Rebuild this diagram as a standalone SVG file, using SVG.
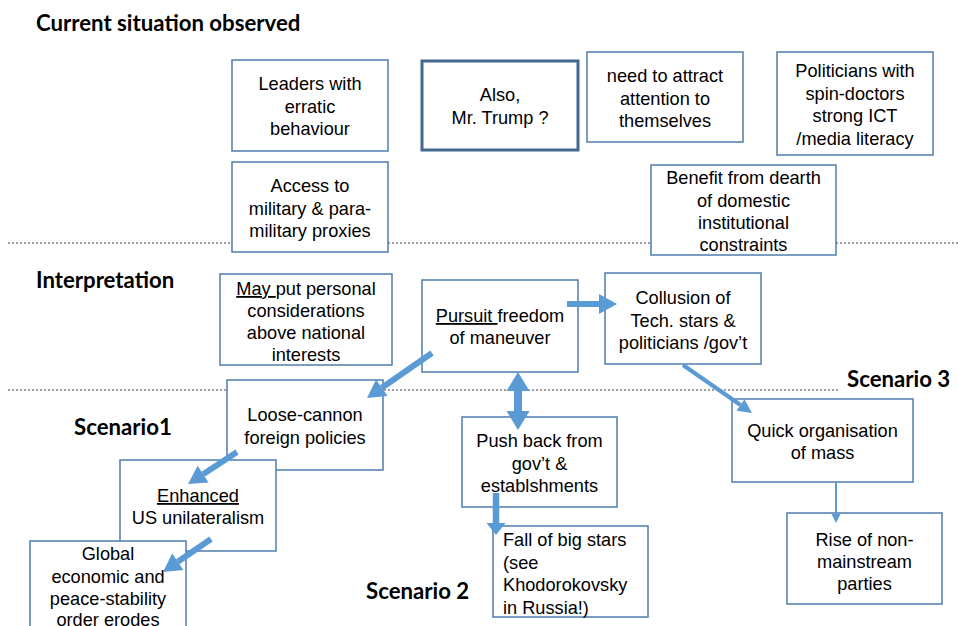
<svg xmlns="http://www.w3.org/2000/svg" width="958" height="626" viewBox="0 0 958 626">
  <style>
    .box { fill: #ffffff; stroke: #4F7CAC; stroke-width: 1.5; }
    .box-strong { fill: #ffffff; stroke: #44698F; stroke-width: 3; }
    .t { font-family: "Liberation Sans", Arial, sans-serif; font-size: 18.2px; fill: #000000; text-anchor: middle; }
    .tl { font-family: "Liberation Sans", Arial, sans-serif; font-size: 18.2px; fill: #000000; }
    .hdr { font-family: Lato, "Open Sans", sans-serif; font-weight: 700; font-size: 22.2px; fill: #000000; }
    .sep { stroke: #7F7F7F; stroke-width: 1.5; stroke-dasharray: 2 2; fill: none; }
    .arrow { stroke: #5B9BD5; fill: none; stroke-linecap: butt; }
    .u { text-decoration: underline; }
  </style>
  <defs>
    <marker id="head-lg" markerUnits="userSpaceOnUse" viewBox="0 -10 18 20" markerWidth="18" markerHeight="20" refX="0" refY="0" orient="auto" overflow="visible">
      <path d="M0,-10 L18,0 L0,10 Z" fill="#5B9BD5"/>
    </marker>
    <marker id="head-md" markerUnits="userSpaceOnUse" viewBox="0 -7 14 14" markerWidth="14" markerHeight="14" refX="0" refY="0" orient="auto" overflow="visible">
      <path d="M0,-7 L14,0 L0,7 Z" fill="#5B9BD5"/>
    </marker>
    <marker id="head-sm" markerUnits="userSpaceOnUse" viewBox="0 -4.5 9 9" markerWidth="9" markerHeight="9" refX="0" refY="0" orient="auto" overflow="visible">
      <path d="M0,-4.5 L9,0 L0,4.5 Z" fill="#5B9BD5"/>
    </marker>
    <marker id="head-dn" markerUnits="userSpaceOnUse" viewBox="0 -9.5 12 19" markerWidth="12" markerHeight="19" refX="0" refY="0" orient="auto" overflow="visible">
      <path d="M0,-9.5 L12,0 L0,9.5 Z" fill="#5B9BD5"/>
    </marker>
    <marker id="head-dbl" markerUnits="userSpaceOnUse" viewBox="0 -11.5 19 23" markerWidth="19" markerHeight="23" refX="0" refY="0" orient="auto-start-reverse" overflow="visible">
      <path d="M0,-11.5 L19,0 L0,11.5 Z" fill="#5B9BD5"/>
    </marker>
  </defs>

  <rect width="958" height="626" fill="#ffffff"/>

  <!-- section separators -->
  <g id="separators">
    <line class="sep" x1="8" y1="243" x2="958" y2="243"/>
    <line class="sep" x1="8" y1="390" x2="838" y2="390"/>
  </g>

  <!-- section headings -->
  <g id="headings">
    <text class="hdr" x="36" y="31">Current situation observed</text>
    <text class="hdr" x="36" y="288">Interpretation</text>
    <text class="hdr" x="74" y="435">Scenario1</text>
    <text class="hdr" x="366" y="599">Scenario 2</text>
    <text class="hdr" x="847" y="387">Scenario 3</text>
  </g>

  <!-- observed situation -->
  <g id="leaders">
    <rect class="box" x="232" y="60" width="156" height="91"/>
    <text class="t" x="310" y="90">Leaders with</text>
    <text class="t" x="310" y="112.5">erratic</text>
    <text class="t" x="310" y="135">behaviour</text>
  </g>
  <g id="access">
    <rect class="box" x="232" y="162" width="156" height="90"/>
    <text class="t" x="310" y="192">Access to</text>
    <text class="t" x="310" y="214.5">military &amp; para-</text>
    <text class="t" x="310" y="237">military proxies</text>
  </g>
  <g id="trump">
    <rect class="box-strong" x="422" y="61" width="156" height="89"/>
    <text class="t" x="500" y="101">Also,</text>
    <text class="t" x="500" y="124">Mr. Trump ?</text>
  </g>
  <g id="attention">
    <rect class="box" x="587" y="52" width="156" height="90"/>
    <text class="t" x="665" y="82">need to attract</text>
    <text class="t" x="665" y="104.5">attention to</text>
    <text class="t" x="665" y="127">themselves</text>
  </g>
  <g id="politicians">
    <rect class="box" x="777" y="52" width="156" height="103"/>
    <text class="t" x="855" y="77">Politicians with</text>
    <text class="t" x="855" y="99.5">spin-doctors</text>
    <text class="t" x="855" y="122">strong ICT</text>
    <text class="t" x="855" y="144.5">/media literacy</text>
  </g>
  <g id="benefit">
    <rect class="box" x="651" y="165" width="185" height="90"/>
    <text class="t" x="743.5" y="184">Benefit from dearth</text>
    <text class="t" x="743.5" y="206.5">of domestic</text>
    <text class="t" x="743.5" y="229">institutional</text>
    <text class="t" x="743.5" y="251">constraints</text>
  </g>

  <!-- interpretation -->
  <g id="personal">
    <rect class="box" x="220" y="274" width="172" height="91"/>
    <text class="t" x="306" y="295"><tspan class="u">May </tspan>put personal</text>
    <text class="t" x="306" y="317">considerations</text>
    <text class="t" x="306" y="339">above national</text>
    <text class="t" x="306" y="361">interests</text>
  </g>
  <g id="pursuit">
    <rect class="box" x="422" y="280" width="156" height="92"/>
    <text class="t" x="500" y="322"><tspan class="u">Pursuit </tspan>freedom</text>
    <text class="t" x="500" y="344">of maneuver</text>
  </g>
  <g id="collusion">
    <rect class="box" x="605" y="273" width="156" height="91"/>
    <text class="t" x="683" y="304">Collusion of</text>
    <text class="t" x="683" y="326.5">Tech. stars &amp;</text>
    <text class="t" x="683" y="349">politicians /gov’t</text>
  </g>

  <!-- scenario 1 -->
  <g id="loose-cannon">
    <rect class="box" x="227" y="380" width="156" height="90"/>
    <text class="t" x="305" y="421">Loose-cannon</text>
    <text class="t" x="305" y="444">foreign policies</text>
  </g>
  <g id="unilateralism">
    <rect class="box" x="120" y="460" width="156" height="91"/>
    <text class="t" x="198" y="502"><tspan class="u">Enhanced</tspan></text>
    <text class="t" x="198" y="524">US unilateralism</text>
  </g>
  <g id="global-order">
    <rect class="box" x="30" y="541" width="156" height="100"/>
    <text class="t" x="108" y="560">Global</text>
    <text class="t" x="108" y="583">economic and</text>
    <text class="t" x="108" y="605">peace-stability</text>
    <text class="t" x="108" y="626">order erodes</text>
  </g>

  <!-- scenario 2 -->
  <g id="push-back">
    <rect class="box" x="462" y="417" width="155" height="90"/>
    <text class="t" x="539.5" y="447">Push back from</text>
    <text class="t" x="539.5" y="470">gov’t &amp;</text>
    <text class="t" x="539.5" y="492">establshments</text>
  </g>
  <g id="fall-of-stars">
    <rect class="box" x="493" y="526" width="155" height="91"/>
    <text class="tl" x="503" y="546">Fall of big stars</text>
    <text class="tl" x="503" y="569">(see</text>
    <text class="tl" x="503" y="591">Khodorokovsky</text>
    <text class="tl" x="503" y="614">in Russia!)</text>
  </g>

  <!-- scenario 3 -->
  <g id="mass-organisation">
    <rect class="box" x="732" y="399" width="181" height="83"/>
    <text class="t" x="822.5" y="437">Quick organisation</text>
    <text class="t" x="822.5" y="459">of mass</text>
  </g>
  <g id="non-mainstream">
    <rect class="box" x="787" y="513" width="155" height="91"/>
    <text class="t" x="864.5" y="546">Rise of non-</text>
    <text class="t" x="864.5" y="568">mainstream</text>
    <text class="t" x="864.5" y="590">parties</text>
  </g>

  <!-- connectors -->
  <g id="connectors">
    <line class="arrow" stroke-width="6" x1="567" y1="304" x2="599" y2="304" marker-end="url(#head-lg)"/>
    <line class="arrow" stroke-width="6" x1="432" y1="353" x2="381.8" y2="387.8" marker-end="url(#head-lg)"/>
    <line class="arrow" stroke-width="6" x1="237" y1="452" x2="203.1" y2="474.2" marker-end="url(#head-lg)"/>
    <line class="arrow" stroke-width="6" x1="211" y1="539" x2="177.8" y2="561.8" marker-end="url(#head-lg)"/>
    <line class="arrow" stroke-width="4" x1="683" y1="365" x2="740.5" y2="405" marker-end="url(#head-md)"/>
    <line class="arrow" stroke-width="2" x1="836" y1="482" x2="836" y2="514" marker-end="url(#head-sm)"/>
    <line class="arrow" stroke-width="6.5" x1="496" y1="493" x2="496" y2="523" marker-end="url(#head-dn)"/>
    <line class="arrow" stroke-width="8" x1="518" y1="391" x2="518" y2="411" marker-start="url(#head-dbl)" marker-end="url(#head-dbl)"/>
  </g>
</svg>
